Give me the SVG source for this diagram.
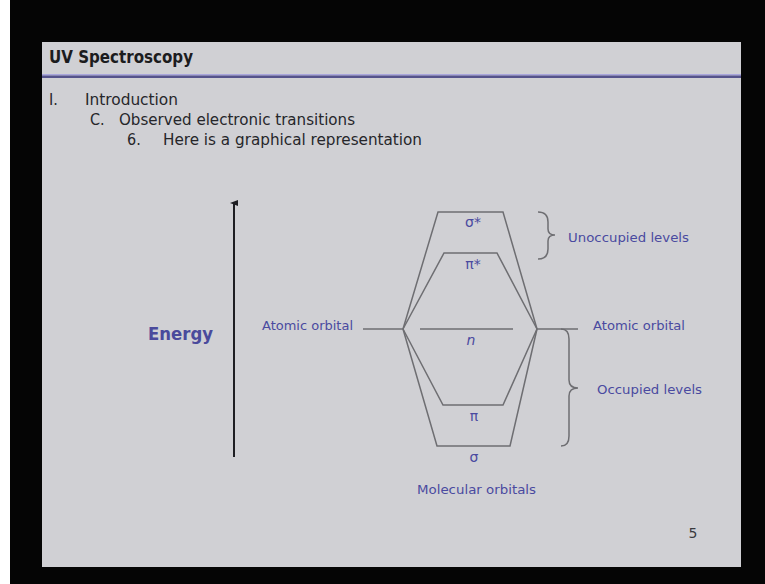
<svg xmlns="http://www.w3.org/2000/svg" width="765" height="584" viewBox="0 0 765 584">
<style>
.body{font-family:"DejaVu Sans Condensed","DejaVu Sans",sans-serif;font-size:16px;fill:#26262a}
.title{font-family:"DejaVu Sans Condensed","DejaVu Sans",sans-serif;font-size:17px;font-weight:bold;fill:#1c1c1e}
.lab{font-family:"DejaVu Sans",Verdana,sans-serif;font-size:12.5px;fill:#4a4aa0}
.greek{font-family:"DejaVu Sans",sans-serif;font-size:14px;fill:#4a4aa0;text-anchor:middle}
.lvl{stroke:#6e6e72;stroke-width:1.5;fill:none}
</style>
<defs>
<marker id="ah" markerWidth="8" markerHeight="8" refX="4" refY="4" orient="auto" markerUnits="userSpaceOnUse">
<path d="M1,8 L4,0 L7,8 Z" fill="#1e1e22"/>
</marker>
</defs>
<rect x="0" y="0" width="765" height="584" fill="#050505"/>
<rect x="0" y="0" width="10" height="584" fill="#ffffff"/>
<rect x="42" y="42" width="699" height="525" fill="#d0d0d4"/>
<g id="header">
<text class="title" x="49" y="63" textLength="144" lengthAdjust="spacingAndGlyphs">UV Spectroscopy</text>
<rect x="42" y="74" width="699" height="1.5" fill="#a9a6dc"/>
<rect x="42" y="75.5" width="699" height="2.5" fill="#55538c"/>
</g>
<g id="outline">
<text class="body" x="49" y="105">I.</text>
<text class="body" x="85" y="105" textLength="93" lengthAdjust="spacingAndGlyphs">Introduction</text>
<text class="body" x="90" y="125">C.</text>
<text class="body" x="119" y="125" textLength="236" lengthAdjust="spacingAndGlyphs">Observed electronic transitions</text>
<text class="body" x="127" y="145">6.</text>
<text class="body" x="163" y="145" textLength="259" lengthAdjust="spacingAndGlyphs">Here is a graphical representation</text>
</g>
<g id="energy-axis">
<line x1="234" y1="457" x2="234" y2="203" stroke="#1e1e22" stroke-width="2" marker-end="url(#ah)"/>
<text x="148" y="340" font-family="DejaVu Sans, Verdana, sans-serif" font-size="18" font-weight="bold" fill="#4a4a9c" textLength="65" lengthAdjust="spacingAndGlyphs">Energy</text>
</g>
<g id="connectors">
<line class="lvl" x1="363" y1="329" x2="403" y2="329"/>
<line class="lvl" x1="537" y1="329" x2="578" y2="329"/>
<polyline class="lvl" points="403,329 438,212 503,212 537,329"/>
<polyline class="lvl" points="403,329 444,253 497,253 537,329"/>
<polyline class="lvl" points="403,329 443,405 503,405 537,329"/>
<polyline class="lvl" points="403,329 437,446 510,446 537,329"/>
</g>
<g id="atomic-left"><text class="lab" x="262" y="330" textLength="91" lengthAdjust="spacingAndGlyphs">Atomic orbital</text></g>
<g id="atomic-right"><text class="lab" x="593" y="330" textLength="92" lengthAdjust="spacingAndGlyphs">Atomic orbital</text></g>
<g id="sigma-star"><text class="greek" x="473" y="227">σ*</text></g>
<g id="pi-star"><text class="greek" x="473" y="269">π*</text></g>
<g id="n-level"><line class="lvl" x1="420" y1="329" x2="513" y2="329"/><text class="greek" x="471" y="345" font-style="italic">n</text></g>
<g id="pi"><text class="greek" x="474" y="421">π</text></g>
<g id="sigma"><text class="greek" x="474" y="462">σ</text></g>
<g id="unoccupied">
<path class="lvl" d="M538,212 Q548,212 548,222 L548,229 Q548,235 555,235 Q548,235 548,241 L548,249 Q548,259 538,259"/>
<text class="lab" x="568" y="242" textLength="121" lengthAdjust="spacingAndGlyphs">Unoccupied levels</text>
</g>
<g id="occupied">
<path class="lvl" d="M561,329 Q569,329 569,339 L569,380 Q569,388 578,388 Q569,388 569,396 L569,436 Q569,446 561,446"/>
<text class="lab" x="597" y="394" textLength="105" lengthAdjust="spacingAndGlyphs">Occupied levels</text>
</g>
<g id="molecular"><text class="lab" x="417" y="494" textLength="119" lengthAdjust="spacingAndGlyphs">Molecular orbitals</text></g>
<text x="693" y="538" font-family="DejaVu Sans, sans-serif" font-size="14" fill="#3a3a3e" text-anchor="middle">5</text>
</svg>
